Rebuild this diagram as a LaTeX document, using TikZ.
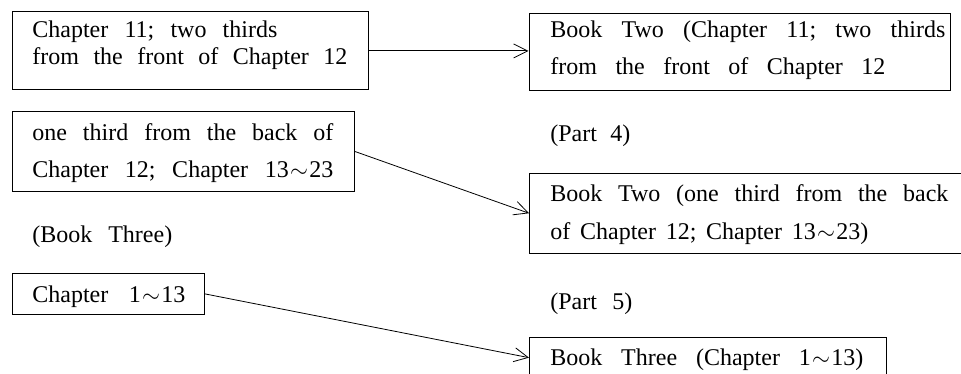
\documentclass[tikz,border=0pt]{standalone}
\usepackage{fontspec}
\setmainfont{Liberation Serif}
\usetikzlibrary{arrows.meta}
\newcommand{\sline}[2]{\makebox[#1][s]{\frenchspacing\spaceskip=0.25em plus 2em\xspaceskip=0.25em plus 2em\relax #2}}
\newcommand{\tld}{\kern1pt$\sim$\kern1pt}
\begin{document}
\begin{tikzpicture}[x=0.75pt,y=-0.75pt,
  box/.style={draw, line width=0.6pt, anchor=north west, inner ysep=0pt, align=left,
    font=\fontsize{18}{20}\selectfont},
  lbl/.style={anchor=base west, inner sep=0pt, font=\fontsize{18}{20}\selectfont},
  arr/.style={-{Straight Barb[length=10.5pt,width=10.5pt]}, line width=0.6pt}]
\useasboundingbox (0,0) rectangle (961,374);
\clip (0,0) rectangle (961,374);
% left column
\node[box, inner xsep=15pt, text width=237pt, text height=19pt, text depth=39.5pt,
  font=\fontsize{18}{20.25}\selectfont] (A) at (12,11.5)
  {\sline{183.75pt}{Chapter 11; two thirds}\\\sline{236.25pt}{from the front of Chapter 12}};
\node[box, inner xsep=15pt, text width=226.5pt, text height=21.4pt, text depth=37.9pt,
  font=\fontsize{18}{27.75}\selectfont] (B) at (12,111.5)
  {\sline{225.75pt}{one third from the back of}\\\sline{225.75pt}{Chapter 12; Chapter 13\tld23}};
\node[lbl] (bk3) at (32,243) {\sline{105pt}{(Book Three)}};
\node[box, inner xsep=15pt, text width=114pt, text height=22pt, text depth=8.7pt] (C) at (12,273)
  {\sline{114.75pt}{Chapter 1\tld13}};
% right column
\node[box, inner xsep=16.1pt, text width=283.9pt, text height=18.2pt, text depth=39.75pt,
  font=\fontsize{18}{27.5}\selectfont] (D) at (528.5,12.7)
  {\sline{296.25pt}{Book Two (Chapter 11; two thirds}\\\sline{251.25pt}{from the front of Chapter 12}};
\node[lbl] (p4) at (550,142) {\sline{60pt}{(Part 4)}};
\node[box, inner xsep=15.75pt, text width=303pt, text height=21pt, text depth=39.2pt,
  font=\fontsize{18}{28.5}\selectfont] (E) at (529,172.7)
  {\sline{298.5pt}{Book Two (one third from the back}\\\sline{238.5pt}{of Chapter 12; Chapter 13\tld23)}};
\node[lbl] (p5) at (550,310) {\sline{61.5pt}{(Part 5)}};
\node[box, inner xsep=15.75pt, text width=236.25pt, text height=21.4pt, text depth=9.75pt] (F) at (529,336.5)
  {\sline{234.75pt}{Book Three (Chapter 1\tld13)}};
% connectors
\draw[arr] (A.east) -- (A.east -| D.west);
\draw[arr] (B.east) -- (E.west);
\draw[arr] (C.east) -- (F.west);
\end{tikzpicture}
\end{document}
